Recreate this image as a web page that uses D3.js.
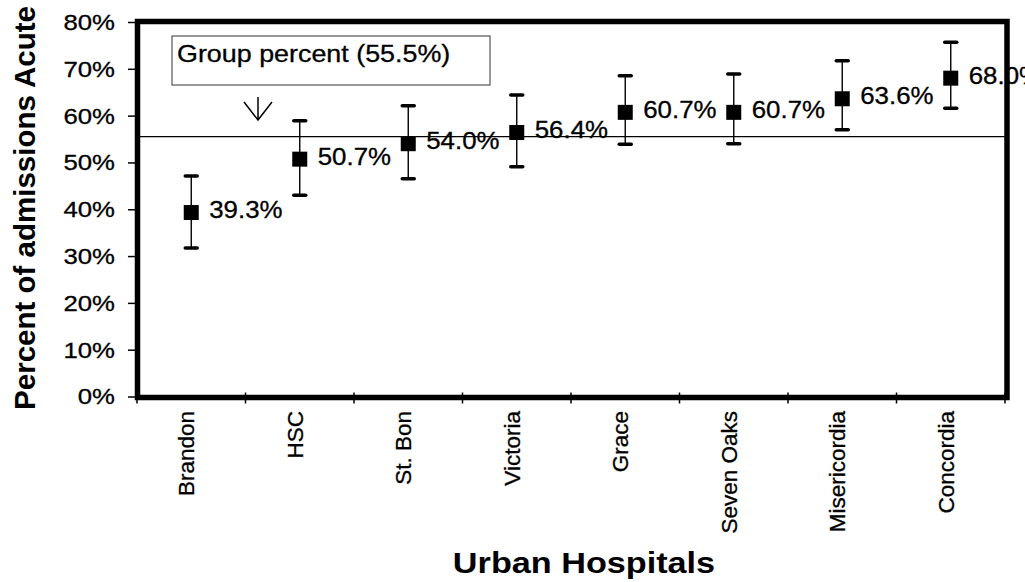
<!DOCTYPE html>
<html>
<head>
<meta charset="utf-8">
<script src="https://cdn.jsdelivr.net/npm/d3@7"></script>
<style>
  html, body { margin: 0; padding: 0; background: #fff; }
  svg { display: block; font-family: Arial, "Liberation Sans", Helvetica, sans-serif; }
</style>
</head>
<body>
<svg id="chart" width="1025" height="582"></svg>
<script>
// ---- data ----
const categories = ["Brandon", "HSC", "St. Bon", "Victoria", "Grace", "Seven Oaks", "Misericordia", "Concordia"];
const values     = [0.393, 0.507, 0.540, 0.564, 0.607, 0.607, 0.636, 0.680];
const upper      = [0.471, 0.589, 0.621, 0.644, 0.685, 0.689, 0.717, 0.757];
const lower      = [0.317, 0.430, 0.465, 0.491, 0.539, 0.540, 0.570, 0.616];
const valueLabels = ["39.3%", "50.7%", "54.0%", "56.4%", "60.7%", "60.7%", "63.6%", "68.0%"];
const yTicks = [0, 0.1, 0.2, 0.3, 0.4, 0.5, 0.6, 0.7, 0.8];
const groupPercent = 0.555;
const groupLabel = "Group percent (55.5%)";
const yTitle = "Percent of admissions Acute";
const xTitle = "Urban Hospitals";

// ---- layout ----
const svg = d3.select("#chart");
const pL = 137, pR = 1005, pT = 22, pB = 396.5;

const x = d3.scaleBand().domain(categories).range([pL, pR]).padding(0);
const y = d3.scaleLinear().domain([0, 0.8]).range([pB, pT]);

// y ticks (outside left)
const yAxis = d3.axisLeft(y).tickValues(yTicks).tickSize(9).tickFormat("");
const gy = svg.append("g").attr("transform", `translate(${pL},0)`).call(yAxis);
gy.select(".domain").remove();
gy.selectAll("line").attr("stroke", "#000").attr("stroke-width", 1.5);

// y tick labels
svg.append("g").selectAll("text").data(yTicks).join("text")
  .attr("transform", d => `translate(115,${y(d)}) scale(1.17,1)`)
  .attr("text-anchor", "end")
  .attr("dy", "0.36em")
  .attr("font-size", 22)
  .attr("fill", "#000").attr("stroke", "#000").attr("stroke-width", 0.3)
  .text(d => d3.format(".0%")(d));

// x ticks at band boundaries
const boundaries = categories.map(c => x(c)).concat([x(categories[categories.length - 1]) + x.bandwidth()]);
svg.append("g").selectAll("line").data(boundaries).join("line")
  .attr("x1", d => d).attr("x2", d => d)
  .attr("y1", pB - 4).attr("y2", pB + 7)
  .attr("stroke", "#000").attr("stroke-width", 1.5);

// x category labels rotated
svg.append("g").selectAll("text").data(categories).join("text")
  .attr("transform", d => `translate(${x(d) + x.bandwidth() / 2 + 3},411) rotate(-90)`)
  .attr("text-anchor", "end")
  .attr("font-size", 22.5)
  .attr("fill", "#000").attr("stroke", "#000").attr("stroke-width", 0.3)
  .text(d => d);

// group line
svg.append("line")
  .attr("x1", pL).attr("x2", pR)
  .attr("y1", y(groupPercent)).attr("y2", y(groupPercent))
  .attr("stroke", "#000").attr("stroke-width", 1.3);

// annotation box
svg.append("rect")
  .attr("x", 172).attr("y", 36).attr("width", 318).attr("height", 49)
  .attr("fill", "#fff").attr("stroke", "#333").attr("stroke-width", 1);
svg.append("text")
  .attr("transform", "translate(177,62) scale(1.12,1)")
  .attr("font-size", 24)
  .attr("fill", "#000").attr("stroke", "#000").attr("stroke-width", 0.3)
  .text(groupLabel);

// arrow
svg.append("path")
  .attr("d", "M258,97 L258,120 M244,102 L258,120 L272,102")
  .attr("fill", "none").attr("stroke", "#000").attr("stroke-width", 1.5);

// error bars
const cx = d => x(d) + x.bandwidth() / 2;
const bars = svg.append("g");
bars.selectAll("line.v").data(categories).join("line").attr("class", "v")
  .attr("x1", cx).attr("x2", cx)
  .attr("y1", (d, i) => y(upper[i])).attr("y2", (d, i) => y(lower[i]))
  .attr("stroke", "#000").attr("stroke-width", 1.4);
bars.selectAll("line.cu").data(categories).join("line").attr("class", "cu")
  .attr("x1", d => cx(d) - 6).attr("x2", d => cx(d) + 6)
  .attr("y1", (d, i) => y(upper[i])).attr("y2", (d, i) => y(upper[i]))
  .attr("stroke", "#000").attr("stroke-width", 3.5).attr("stroke-linecap", "round");
bars.selectAll("line.cl").data(categories).join("line").attr("class", "cl")
  .attr("x1", d => cx(d) - 6).attr("x2", d => cx(d) + 6)
  .attr("y1", (d, i) => y(lower[i])).attr("y2", (d, i) => y(lower[i]))
  .attr("stroke", "#000").attr("stroke-width", 3.5).attr("stroke-linecap", "round");

// square markers
svg.append("g").selectAll("rect").data(categories).join("rect")
  .attr("x", d => cx(d) - 7.5).attr("y", (d, i) => y(values[i]) - 7.5)
  .attr("width", 15).attr("height", 15).attr("fill", "#000");

// value labels
svg.append("g").selectAll("text").data(categories).join("text")
  .attr("transform", (d, i) => `translate(${cx(d) + 18},${y(values[i]) + 5.5}) scale(1.1,1)`)
  .attr("font-size", 23.5)
  .attr("fill", "#000").attr("stroke", "#000").attr("stroke-width", 0.3)
  .text((d, i) => valueLabels[i]);

// plot frame (drawn on top)
svg.append("rect")
  .attr("x", pL + 0.5).attr("y", pT - 0.5)
  .attr("width", pR + 1.5 - pL).attr("height", pB + 1 - pT + 0.5)
  .attr("fill", "none").attr("stroke", "#000").attr("stroke-width", 5.5);

// axis titles
svg.append("text")
  .attr("transform", "translate(35,208) rotate(-90)")
  .attr("text-anchor", "middle")
  .attr("font-size", 29.5).attr("font-weight", "bold")
  .attr("fill", "#000")
  .text(yTitle);

svg.append("text")
  .attr("transform", "translate(584,573) scale(1.18,1)")
  .attr("text-anchor", "middle")
  .attr("font-size", 29).attr("font-weight", "bold")
  .attr("fill", "#000")
  .text(xTitle);
</script>
</body>
</html>
